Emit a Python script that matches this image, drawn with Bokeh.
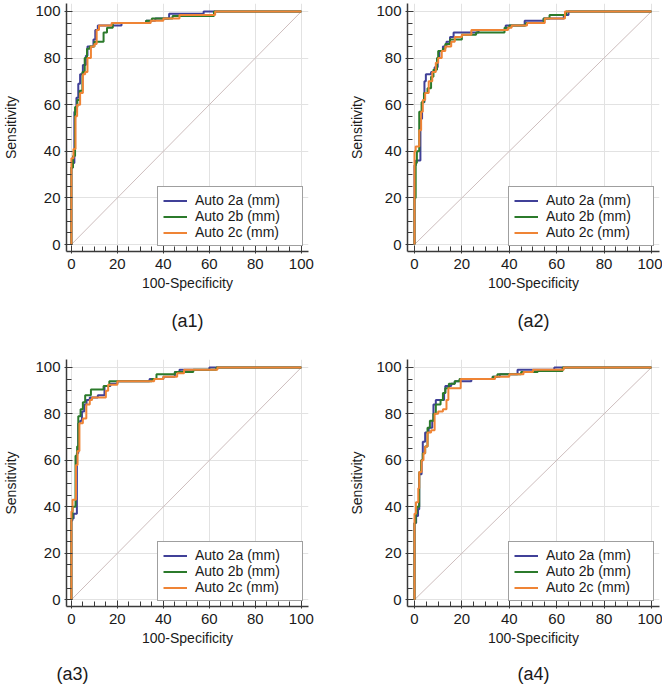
from bokeh.plotting import figure
from bokeh.models import Range1d, SingleIntervalTicker, LinearAxis, FixedTicker
from bokeh.layouts import gridplot
from bokeh.embed import file_html
from bokeh.resources import INLINE

FONT = "Liberation Sans"

# ---- data (100-Specificity, Sensitivity) stair points ----
series_names = ["Auto 2a (mm)", "Auto 2b (mm)", "Auto 2c (mm)"]
panel_captions = ["(a1)", "(a2)", "(a3)", "(a4)"]
diag_x = [0, 100]
diag_y = [0, 100]

a1_x_2a = [0, 0, 0.7, 1.3, 2.2, 3.0, 3.8, 5.0, 6.3, 7.0, 9.6, 10.4, 11.5, 21.8, 32.5, 36.5, 42.5, 57.5, 100]
a1_y_2a = [0, 33, 35, 57, 63, 69, 73, 77, 81, 85, 88, 92, 94, 95, 96, 97, 99, 100, 100]
a1_x_2b = [0, 0, 0.7, 1.6, 2.6, 3.6, 4.8, 5.8, 6.8, 8.0, 10.0, 14.0, 15.5, 18.0, 32.5, 35.0, 44.0, 62.0, 100]
a1_y_2b = [0, 33, 38, 59, 62, 66, 74, 80, 84, 85, 87, 91, 93, 95, 96, 97, 98, 100, 100]
a1_x_2c = [0, 0, 0.9, 1.8, 2.5, 3.8, 5.0, 6.0, 7.0, 8.5, 10.0, 11.0, 12.0, 17.5, 34.5, 40.0, 47.0, 62.5, 100]
a1_y_2c = [0, 37, 41, 55, 60, 65, 73, 74, 80, 85, 86, 92, 94, 95, 96, 97, 98.5, 100, 100]

a2_x_2a = [0, 0, 0.6, 2.5, 3.2, 4.2, 4.8, 7.0, 8.5, 9.8, 10.5, 12.0, 13.5, 15.0, 16.5, 27.0, 38.5, 46.5, 54.5, 63.0, 65.0, 100]
a2_y_2a = [0, 34, 36, 54, 61, 70, 73, 74, 76, 80, 83, 85, 87, 89, 91, 92, 94, 96, 97, 98.5, 100, 100]
a2_x_2b = [0, 0, 0.5, 1.0, 2.0, 3.0, 4.0, 5.5, 7.0, 8.0, 9.5, 10.0, 12.0, 13.0, 15.0, 20.0, 26.0, 38.0, 40.0, 47.0, 54.5, 57.0, 64.0, 100]
a2_y_2b = [0, 20, 35, 40, 57, 61, 65, 67, 72, 75, 80, 83, 84, 86, 88, 90, 91, 93, 94, 95, 97, 98.5, 100, 100]
a2_x_2c = [0, 0, 0.5, 2.0, 2.8, 3.5, 4.5, 6.0, 7.5, 9.0, 10.0, 11.5, 13.0, 15.5, 17.0, 20.0, 24.0, 39.5, 41.0, 47.5, 55.0, 63.5, 100]
a2_y_2c = [0, 40, 42, 49, 57, 62, 65, 70, 74, 78, 80, 83, 85, 87, 89, 90, 92, 93, 94, 95, 97, 100, 100]

a3_x_2a = [0, 0, 0.4, 1.0, 2.4, 3.0, 3.8, 4.6, 5.6, 6.6, 8.0, 11.5, 14.4, 17.0, 20.0, 34.0, 40.0, 45.0, 47.0, 60.0, 100]
a3_y_2a = [0, 34, 35, 37, 63, 76, 77, 81, 84, 86, 87, 88, 92, 93, 94, 95, 96, 98, 99, 100, 100]
a3_x_2b = [0, 0, 0.5, 1.8, 2.5, 3.0, 4.0, 5.0, 6.0, 8.5, 14.0, 16.5, 35.0, 37.0, 45.0, 53.0, 63.0, 100]
a3_y_2b = [0, 35, 40, 62, 66, 79, 82, 85, 88, 90.5, 92, 94, 95, 97, 98, 99, 100, 100]
a3_x_2c = [0, 0, 0.5, 2.0, 2.7, 3.5, 5.0, 6.5, 8.0, 9.0, 15.0, 16.0, 20.0, 36.0, 40.0, 46.0, 49.0, 63.5, 100]
a3_y_2c = [0, 38, 43, 58, 64, 76, 78, 84, 86, 87, 90, 92.5, 94, 95, 96, 97.5, 99, 100, 100]

a4_x_2a = [0, 0, 0.7, 1.5, 2.0, 3.0, 3.5, 4.5, 6.0, 7.5, 8.0, 9.0, 12.5, 13.0, 15.5, 17.0, 24.0, 33.0, 36.0, 43.5, 59.0, 100]
a4_y_2a = [0, 33, 36, 39, 54, 60, 68, 72, 74, 77, 84, 86, 89, 92, 93, 94, 95, 96, 97, 99, 100, 100]
a4_x_2b = [0, 0, 0.5, 1.0, 2.0, 2.8, 3.5, 4.5, 5.5, 6.5, 8.0, 9.0, 11.0, 12.0, 13.0, 14.5, 17.0, 19.0, 33.0, 35.0, 45.0, 52.0, 62.5, 100]
a4_y_2b = [0, 33, 37, 40, 55, 60, 63, 66, 74, 77, 80, 84, 86, 89, 91, 93, 94, 95, 96, 97, 98, 98.5, 100, 100]
a4_x_2c = [0, 0, 0.6, 1.6, 2.0, 3.0, 3.8, 4.5, 5.5, 7.0, 8.5, 10.0, 12.0, 13.5, 14.3, 19.5, 34.0, 40.0, 46.0, 50.0, 63.0, 100]
a4_y_2c = [0, 37, 42, 48, 55, 60, 63, 66, 72, 73, 80, 81, 82, 86, 91, 95, 96, 97, 98, 99, 100, 100]

COLORS = ["#404098", "#2b7a2b", "#ef8435"]

panels = [
    [(a1_x_2a, a1_y_2a), (a1_x_2b, a1_y_2b), (a1_x_2c, a1_y_2c)],
    [(a2_x_2a, a2_y_2a), (a2_x_2b, a2_y_2b), (a2_x_2c, a2_y_2c)],
    [(a3_x_2a, a3_y_2a), (a3_x_2b, a3_y_2b), (a3_x_2c, a3_y_2c)],
    [(a4_x_2a, a4_y_2a), (a4_x_2b, a4_y_2b), (a4_x_2c, a4_y_2c)],
]


def make_panel(idx):
    col = idx % 2
    rowi = idx // 2
    if col == 0:
        xr = Range1d(-2.12, 103.1)
        mb_left, mb_right = 60, 23
        ax_label_standoff = 13
    else:
        xr = Range1d(-2.95, 103.4)
        mb_left, mb_right = 76, 3
        ax_label_standoff = 8
    if rowi == 0:
        yr = Range1d(-3.0, 103.4)
        mb_top, mb_bottom = 3, 92
        cap_standoff = 17
    else:
        yr = Range1d(-2.9, 103.4)
        mb_top, mb_bottom = 16, 80
        cap_standoff = 15

    p = figure(width=331, height=343, x_range=xr, y_range=yr,
               output_backend="svg", toolbar_location=None,
               min_border_left=mb_left, min_border_right=mb_right,
               min_border_top=mb_top, min_border_bottom=mb_bottom)
    p.outline_line_color = None
    p.background_fill_color = "white"
    p.border_fill_color = "white"

    for ax in (p.xaxis[0], p.yaxis[0]):
        ax.ticker = SingleIntervalTicker(interval=20, num_minor_ticks=4)
        ax.axis_line_color = "#3a3a3a"
        ax.axis_line_width = 1.5
        ax.major_tick_line_color = "#3a3a3a"
        ax.minor_tick_line_color = "#3a3a3a"
        ax.major_tick_in = 6
        ax.major_tick_out = 2
        ax.minor_tick_in = 5
        ax.minor_tick_out = 0
        ax.major_label_text_font = FONT
        ax.major_label_text_font_size = "15px"
        ax.major_label_text_color = "#1a1a1a"
        ax.axis_label_text_font = FONT
        ax.axis_label_text_font_size = "14px"
        ax.axis_label_text_font_style = "normal"
        ax.axis_label_text_color = "#1a1a1a"
    p.xaxis[0].major_label_standoff = 5
    p.yaxis[0].major_label_standoff = 4
    p.xaxis[0].axis_label = "100-Specificity"
    p.xaxis[0].axis_label_standoff = 3
    p.yaxis[0].axis_label = "Sensitivity"
    p.yaxis[0].axis_label_standoff = ax_label_standoff

    for g in (p.xgrid[0], p.ygrid[0]):
        g.ticker = SingleIntervalTicker(interval=20)
        g.grid_line_color = "#e2e2e2"
        g.grid_line_width = 1

    p.line(diag_x, diag_y, line_color="#cdbdbd", line_width=1)

    for (xs, ys), name, color in zip(panels[idx], series_names, COLORS):
        p.step(xs, ys, mode="after", line_color=color, line_width=2,
               legend_label=name)

    lg = p.legend[0]
    lg.location = "bottom_right"
    lg.margin = 5
    lg.padding = 5
    lg.spacing = 0
    lg.glyph_width = 24
    lg.glyph_height = 15
    lg.label_height = 15
    lg.label_width = 102
    lg.label_standoff = 8
    lg.label_text_font = FONT
    lg.label_text_font_size = "14px"
    lg.label_text_color = "#1a1a1a"
    lg.border_line_color = "#404040"
    lg.border_line_width = 1
    lg.background_fill_color = "white"
    lg.background_fill_alpha = 1.0

    # caption as an extra, tick-less axis label stacked below the x axis
    caption = panel_captions[idx]
    if idx == 2:
        # (a3) sits at the left under its panel: pad with non-breaking spaces
        caption = caption + "\u00a0" * 46
    cap = LinearAxis(axis_label=caption, ticker=FixedTicker(ticks=[]))
    cap.axis_line_color = None
    cap.major_tick_line_color = None
    cap.minor_tick_line_color = None
    cap.major_tick_in = 0
    cap.major_tick_out = 0
    cap.minor_tick_in = 0
    cap.minor_tick_out = 0
    cap.major_label_standoff = 0
    cap.major_label_text_font_size = "0px"
    cap.axis_label_standoff = cap_standoff
    cap.axis_label_text_font = FONT
    cap.axis_label_text_font_size = "18px"
    cap.axis_label_text_font_style = "normal"
    cap.axis_label_text_color = "#1a1a1a"
    p.add_layout(cap, "below")
    return p


figs = [make_panel(i) for i in range(4)]
layout = gridplot([[figs[0], figs[1]], [figs[2], figs[3]]], toolbar_location=None)

open("out.html", "w").write(file_html(layout, INLINE))
